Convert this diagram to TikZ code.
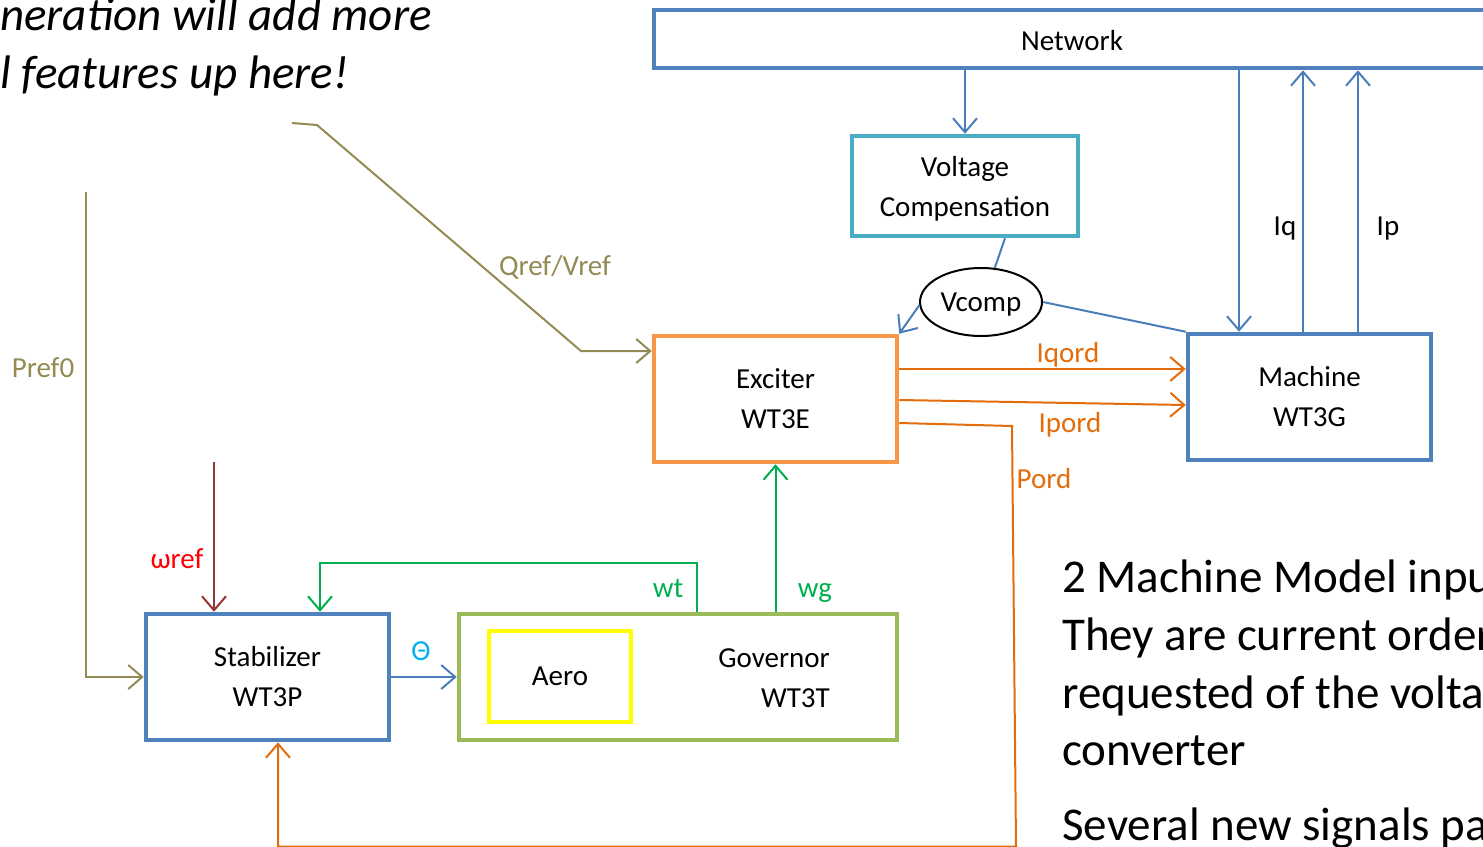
\documentclass[tikz,border=0pt]{standalone}
\usepackage{fontspec}
\setmainfont{Carlito}
\usetikzlibrary{arrows.meta,shapes.geometric}

\definecolor{boxblue}{HTML}{4F81BD}
\definecolor{lineblue}{HTML}{4A7EBB}
\definecolor{aqua}{HTML}{4BACC6}
\definecolor{boxorange}{HTML}{F79646}
\definecolor{lineorange}{HTML}{E46C0A}
\definecolor{boxgreen}{HTML}{9BBB59}
\definecolor{linegreen}{HTML}{00B050}
\definecolor{olivesig}{HTML}{948A54}
\definecolor{darkredsig}{HTML}{953735}
\definecolor{thetacyan}{HTML}{00B0F0}
\definecolor{aeroyellow}{HTML}{FFFF00}

\newcommand{\lblfont}{\fontsize{29}{40}\selectfont}
\newcommand{\bigtxt}{\fontsize{47}{57}\selectfont}

\begin{document}
\begin{tikzpicture}[x=1pt,y=-1pt,
  box/.style={draw, rectangle, line width=4.5pt, align=center, font=\lblfont, inner sep=0pt},
  sig/.style={line width=2pt, -{Straight Barb[length=14pt,width=24pt]}},
  wire/.style={line width=2pt},
  lbl/.style={font=\lblfont, anchor=base},
  big/.style={font=\bigtxt, anchor=base west, inner sep=0pt}]

\useasboundingbox (0,0) rectangle (1483,846);
\clip (0,0) rectangle (1483,846);
\fill[white] (0,0) rectangle (1483,846);

% blocks
\node[box, draw=boxblue, minimum width=836pt, minimum height=58pt] (net) at (1072,39) {};
\node[lbl] (nettext) at (1072,50) {Network};
\node[box, draw=aqua, minimum width=226pt, minimum height=100pt, text depth=0pt] (vc) at (965,186) {Voltage\\Compensation};
\node[box, draw=boxorange, minimum width=243pt, minimum height=126pt] (exc) at (775.5,399) {Exciter\\WT3E};
\node[box, draw=boxblue, minimum width=243pt, minimum height=126pt] (mac) at (1309.5,397) {Machine\\WT3G};
\node[box, draw=boxblue, minimum width=243pt, minimum height=126pt] (stab) at (267.5,677) {Stabilizer\\WT3P};
\node[box, draw=boxgreen, minimum width=438pt, minimum height=126pt] (gov) at (678,677) {};
\node[box, draw=aeroyellow, minimum width=142pt, minimum height=91pt] (aero) at (560,676.5) {Aero};
\node[font=\lblfont, align=right, anchor=east, inner sep=0pt] (govtext) at (830,678) {Governor\\WT3T};
\node[ellipse, draw=black, line width=2pt, minimum width=122pt, minimum height=68pt,
      inner sep=0pt, text depth=0pt, font=\lblfont] (vcomp) at (981,302) {Vcomp};

% network interface
\draw[sig, lineblue] (vc.north |- net.south) -- (vc.north);
\coordinate (mdown) at ([xshift=-70.5pt]mac.north);
\coordinate (miq) at ([xshift=-6.5pt]mac.north);
\coordinate (mip) at ([xshift=48.5pt]mac.north);
\draw[sig, lineblue] (mdown |- net.south) -- (mdown);
\draw[sig, lineblue] (miq) -- (miq |- net.south);
\draw[sig, lineblue] (mip) -- (mip |- net.south);
\node[lbl] (iq) at (1285,235) {Iq};
\node[lbl] (ip) at (1388,235) {Ip};

% voltage compensation
\draw[wire, lineblue] ([xshift=40pt]vc.south) -- (vcomp.68);
\draw[sig, lineblue] (vcomp.183) -- (exc.north east);
\draw[wire, lineblue] (vcomp.east) -- (mac.north west);

% current orders
\draw[sig, lineorange] ([yshift=30pt]exc.east) -- ([yshift=28pt]mac.west);
\draw[sig, lineorange] ([yshift=-1pt]exc.east) -- ([yshift=-8pt]mac.west);
\node[lbl, text=lineorange] (iqord) at (1068,362) {Iqord};
\node[lbl, text=lineorange] (ipord) at (1070,432) {Ipord};

% power order feedback, returning along the lower edge
\draw[sig, lineorange] ([yshift=-24pt]exc.east) -- (1012,426) -- (1016,846.5) -- (278,846.5) -- ([xshift=10.5pt]stab.south);
\node[lbl, text=lineorange] (pord) at (1044,488) {Pord};

% references
\coordinate (qstart) at (292,123);
\draw[sig, olivesig] (qstart) -- (317,125) -- (581,351) -- ([yshift=48pt]exc.west);
\node[lbl, text=olivesig] (qref) at (555,275) {Qref/Vref};
\coordinate (pstart) at (86,192);
\draw[sig, olivesig] (pstart) |- (stab.west);
\node[lbl, text=olivesig] (pref) at (43,377) {Pref0};
\coordinate (wstart) at (214,462);
\draw[sig, darkredsig] (wstart) -- (wstart |- stab.north);
\node[lbl, text=red] (wref) at (177,568) {ωref};

% speeds and pitch
\coordinate (wtout) at ([xshift=19pt]gov.north);
\coordinate (wtin) at ([xshift=52.5pt]stab.north);
\draw[sig, linegreen] (wtout) -- ++(0,-49) -| (wtin);
\node[lbl, text=linegreen] (wt) at (668,597) {wt};
\draw[sig, linegreen] (exc.south |- gov.north) -- (exc.south);
\node[lbl, text=linegreen] (wg) at (815,597) {wg};
\draw[sig, lineblue] (stab.east) -- (gov.west);
\node[lbl, text=thetacyan] (theta) at (421,660) {Θ};

% notes
\node[big, font=\bigtxt\itshape] (note1) at (0,30) {neration will add more};
\node[big, font=\bigtxt\itshape] (note2) at (0,88) {l features up here!};
\node[big] (r1) at (1062,592) {2 Machine Model inputs};
\node[big] (r2) at (1062,650) {They are current orders};
\node[big] (r3) at (1062,708) {requested of the voltage};
\node[big] (r4) at (1062,765) {converter};
\node[big] (r5) at (1062,840) {Several new signals pass};
\end{tikzpicture}
\end{document}
